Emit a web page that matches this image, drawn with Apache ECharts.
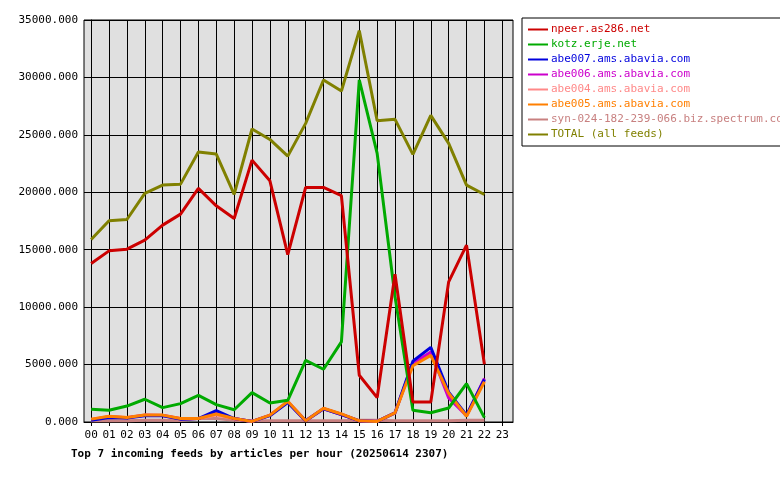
<!DOCTYPE html>
<html>
<head>
<meta charset="utf-8">
<script src="https://cdn.jsdelivr.net/npm/echarts@6/dist/echarts.min.js"></script>
<style>html,body{margin:0;background:#fff}#c{width:780px;height:480px}</style>
</head>
<body>
<div id="c"></div>
<script>
var hours = ['00','01','02','03','04','05','06','07','08','09','10','11','12','13','14','15','16','17','18','19','20','21','22','23']
var npeer = [13800,14900,15050,15830,17140,18100,20340,18820,17720,22800,21000,14580,20420,20420,19700,4070,2120,12870,1740,1740,12200,15400,5030]
var kotz = [1100,1020,1390,1980,1250,1600,2320,1510,1070,2560,1660,1890,5370,4590,6970,29780,23390,10900,1020,810,1220,3340,380]
var abe007 = [150,400,350,550,550,250,300,1000,300,50,550,1700,100,1150,650,100,50,800,5300,6500,2600,600,3700]
var abe006 = [200,450,380,580,560,280,300,800,300,50,580,1750,100,1150,650,100,50,800,5100,6100,2100,550,3800]
var abe004 = [220,480,400,600,580,300,320,600,300,50,600,1780,100,1180,680,100,50,800,5200,6000,2400,520,3600]
var abe005 = [250,500,400,600,600,300,300,700,300,50,600,1800,100,1200,700,100,50,800,4900,5800,2500,500,3500]
var syn = [100,120,100,150,150,120,300,300,150,100,100,100,100,100,100,150,150,100,100,100,100,150,150]
var total = [15890,17520,17630,19900,20630,20710,23500,23330,19810,25510,24600,23150,26000,29780,28820,34080,26230,26350,23300,26700,24260,20630,19810]

var names = ['npeer.as286.net','kotz.erje.net','abe007.ams.abavia.com','abe006.ams.abavia.com','abe004.ams.abavia.com','abe005.ams.abavia.com','syn-024-182-239-066.biz.spectrum.com','TOTAL (all feeds)']
var colors = ['#cc0000','#00aa00','#0000dd','#cc00cc','#ff8888','#ff7f00','#c88080','#808000']
var datas = [npeer,kotz,abe007,abe006,abe004,abe005,syn,total]
var order = [7,6,4,3,2,5,1,0]
var font = 'DejaVu Sans Mono'

var chart = echarts.init(document.getElementById('c'))
var series = order.map(function (i) {
    return {
        name: names[i],
        type: 'line',
        showSymbol: false,
        lineStyle: { color: colors[i], width: 3 },
        itemStyle: { color: colors[i] },
        data: datas[i].map(function (v, k) { return [k, v] }),
    }
})
var ticks = hours.map(function (h, k) { return k })
chart.setOption({
    animation: false,
    textStyle: { fontFamily: font },
    title: {
        text: 'Top 7 incoming feeds by articles per hour (20250614 2307)',
        left: 66, top: 444,
        textStyle: { fontFamily: font, fontSize: 11, fontWeight: 'bold', color: '#000' },
    },
    legend: {
        orient: 'vertical',
        left: 522, top: 18,
        width: 256,
        padding: [6, 6, 6, 6],
        borderColor: '#000', borderWidth: 1,
        itemWidth: 20, itemHeight: 2, itemGap: 4,
        icon: 'rect',
        data: names.map(function (n, i) { return { name: n, textStyle: { color: colors[i] } } }),
        textStyle: { fontFamily: font, fontSize: 11, padding: [0, 0, 0, -2] },
    },
    grid: { left: 84, right: 267, top: 20, bottom: 58, show: true, backgroundColor: '#e0e0e0', borderColor: '#000', borderWidth: 1 },
    xAxis: {
        type: 'value', min: -0.4, max: 23.6,
        axisLine: { lineStyle: { color: '#000' } },
        axisTick: { customValues: ticks, length: 4, lineStyle: { color: '#000' } },
        axisLabel: { customValues: ticks, color: '#000', fontSize: 11, fontFamily: font, formatter: function (v) { return hours[Math.round(v)] } },
        splitLine: { show: true, lineStyle: { color: '#000' } },
    },
    yAxis: {
        type: 'value', min: 0, max: 35000, interval: 5000,
        axisLine: { show: true, lineStyle: { color: '#000' } },
        axisTick: { show: true, length: 4, lineStyle: { color: '#000' } },
        axisLabel: { color: '#000', fontSize: 11, fontFamily: font, margin: 6, formatter: function (v) { return v.toFixed(3) } },
        splitLine: { lineStyle: { color: '#000' } },
    },
    series: series,
})
</script>
</body>
</html>
